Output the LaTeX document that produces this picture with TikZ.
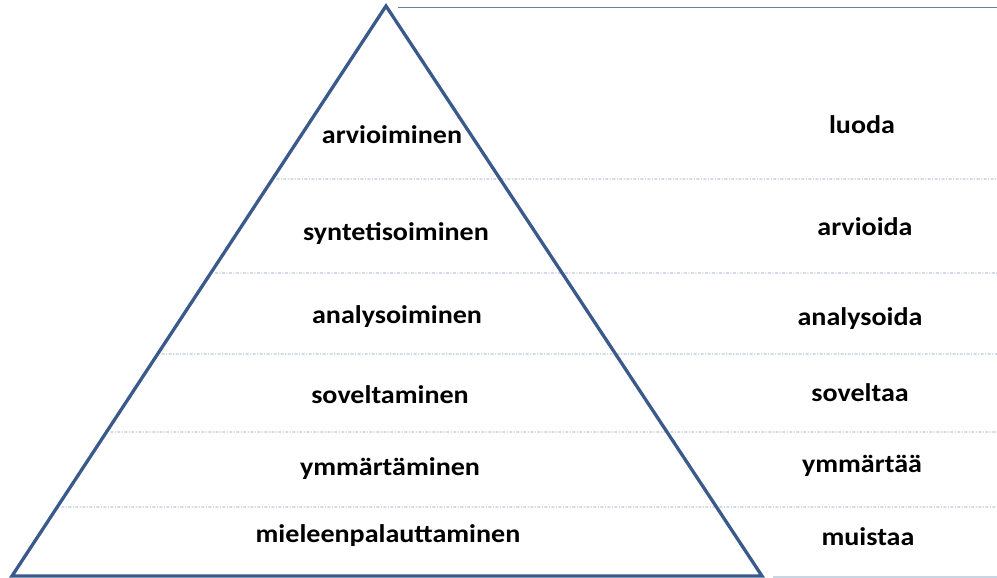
\documentclass[tikz,border=0pt]{standalone}
\usepackage{fontspec}
\setmainfont{Carlito}
\usetikzlibrary{calc}
\definecolor{tri}{HTML}{3A5A8C}
\definecolor{topln}{HTML}{6E7FA3}
\definecolor{dashln}{HTML}{8497B8}
\definecolor{baseln}{HTML}{C9D5E2}
\tikzset{
  lbl/.style={font=\bfseries\fontsize{25.5}{30}\selectfont, anchor=base, inner sep=0pt, xscale=1.1, transform shape},
  sep/.style={draw=dashln, line width=0.8pt, dash pattern=on 3pt off 1.5pt on 1pt off 1.5pt},
}
\begin{document}
\begin{tikzpicture}[x=1pt,y=-1pt]
\useasboundingbox (0,0) rectangle (997,578);
\coordinate (apex) at (386,6);
\coordinate (bl) at (12,576);
\coordinate (br) at (762,576);
\coordinate (tl) at (398,8);
\coordinate (tr) at (997,8);
\coordinate (bl2) at (773,577);
\coordinate (br2) at (997,577);
% separators
\foreach \yy/\nm in {179/a,273/b,354/c,432/d,507/e}{
  \pgfmathsetmacro{\tt}{(\yy-6)/570}
  \coordinate (s\nm) at ($(apex)!\tt!(bl)$);
  \coordinate (e\nm) at (997,\yy);
  \draw[sep] ($(s\nm)+(4,0)$) -- (e\nm);
}
\draw[topln, line width=1pt] (tl) -- (tr);
\draw[baseln, line width=1.2pt] (bl2) -- (br2);
\draw[tri, line width=3.3pt, line join=miter] (apex) -- (br) -- (bl) -- cycle;
% left labels
\node[lbl] (l1) at (392,143) {arvioiminen};
\node[lbl] (l2) at (396,240) {syntetisoiminen};
\node[lbl] (l3) at (397,323) {analysoiminen};
\node[lbl] (l4) at (390,403) {soveltaminen};
\node[lbl] (l5) at (390,475) {ymmärtäminen};
\node[lbl] (l6) at (388,542) {mieleenpalauttaminen};
% right labels
\node[lbl] (r1) at (862,133) {luoda};
\node[lbl] (r2) at (865,235) {arvioida};
\node[lbl] (r3) at (860,325) {analysoida};
\node[lbl] (r4) at (860,401) {soveltaa};
\node[lbl] (r5) at (862,472) {ymmärtää};
\node[lbl] (r6) at (868,545) {muistaa};
\end{tikzpicture}
\end{document}
